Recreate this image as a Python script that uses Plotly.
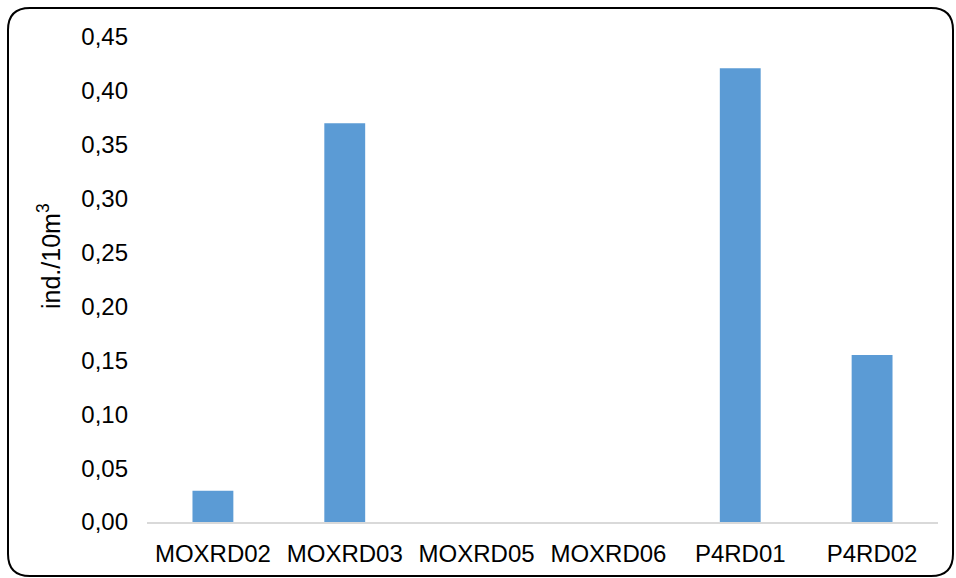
import plotly.graph_objects as go

# Station densities (individuals per 10 m³)
stations = ["MOXRD02", "MOXRD03", "MOXRD05", "MOXRD06", "P4RD01", "P4RD02"]
density = [0.029, 0.370, 0.0, 0.0, 0.421, 0.155]
y_ticks = [0.0, 0.05, 0.10, 0.15, 0.20, 0.25, 0.30, 0.35, 0.40, 0.45]
y_title = "ind./10m<sup>3</sup>"

W, H = 956, 578
ML, MR, MT, MB = 147, 18, 37, 56
PW, PH = W - ML - MR, H - MT - MB

fig = go.Figure(
    go.Bar(
        x=stations,
        y=density,
        marker=dict(color="#5B9BD5", line=dict(width=0)),
    )
)


def px(x):
    return (x - ML) / PW


def py(y):
    return (H - MB - y) / PH


# Rounded frame around the whole chart, defined in pixels and mapped to paper units
x0, x1, y0, y1, r = 8, 953, 8, 576, 22
frame = (
    f"M {px(x0 + r)},{py(y0)} L {px(x1 - r)},{py(y0)} "
    f"Q {px(x1)},{py(y0)} {px(x1)},{py(y0 + r)} "
    f"L {px(x1)},{py(y1 - r)} "
    f"Q {px(x1)},{py(y1)} {px(x1 - r)},{py(y1)} "
    f"L {px(x0 + r)},{py(y1)} "
    f"Q {px(x0)},{py(y1)} {px(x0)},{py(y1 - r)} "
    f"L {px(x0)},{py(y0 + r)} "
    f"Q {px(x0)},{py(y0)} {px(x0 + r)},{py(y0)} Z"
)

fig.update_layout(
    width=W,
    height=H,
    margin=dict(l=ML, r=MR, t=MT, b=MB),
    paper_bgcolor="white",
    plot_bgcolor="white",
    separators=",.",
    bargap=0.69,
    showlegend=False,
    font=dict(family="Liberation Sans, Arial, sans-serif", size=24, color="#000000"),
    xaxis=dict(
        showgrid=False,
        showline=True,
        linecolor="#D9D9D9",
        linewidth=2,
        ticks="",
        ticklabelstandoff=9,
        tickfont=dict(size=24),
    ),
    yaxis=dict(
        range=[0, 0.45],
        tickvals=y_ticks,
        tickformat=".2f",
        showgrid=False,
        showline=False,
        zeroline=False,
        ticks="",
        ticklabelstandoff=18,
        tickfont=dict(size=24),
    ),
    annotations=[
        dict(
            text=y_title,
            xref="paper",
            yref="paper",
            x=px(49),
            y=py(256),
            xanchor="center",
            yanchor="middle",
            textangle=-90,
            showarrow=False,
            font=dict(size=25),
        )
    ],
    shapes=[
        dict(
            type="path",
            xref="paper",
            yref="paper",
            path=frame,
            line=dict(color="#000000", width=2),
            fillcolor="rgba(0,0,0,0)",
            layer="below",
        )
    ],
)

fig.write_html("out.html")
